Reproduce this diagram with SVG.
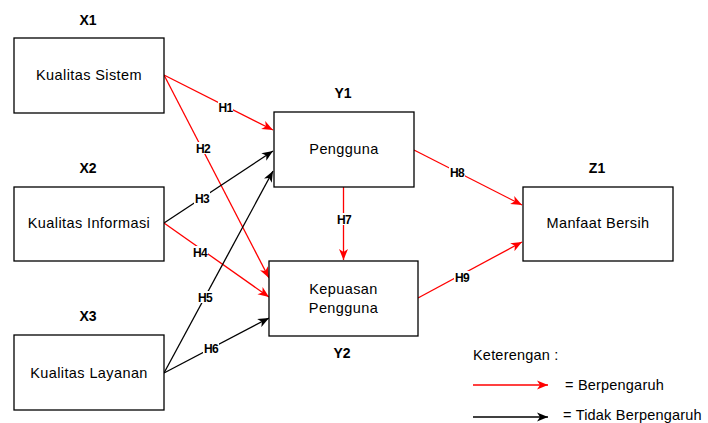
<svg xmlns="http://www.w3.org/2000/svg" width="708" height="423" viewBox="0 0 708 423">
  <defs>
    <marker id="arrRed" markerWidth="12" markerHeight="10" refX="11" refY="5" orient="auto" markerUnits="userSpaceOnUse">
      <path d="M0,0.5 L11,5 L0,9.5 L3,5 Z" fill="#ff0000"/>
    </marker>
    <marker id="arrBlack" markerWidth="12" markerHeight="10" refX="11" refY="5" orient="auto" markerUnits="userSpaceOnUse">
      <path d="M0,0.5 L11,5 L0,9.5 L3,5 Z" fill="#000000"/>
    </marker>
  </defs>
  <style>
    .box { fill: #ffffff; stroke: #000000; stroke-width: 1.3; }
    .txt { font-family: "Liberation Sans", Arial, sans-serif; font-size: 14.5px; fill: #000000; text-anchor: middle; letter-spacing: 0.4px; }
    .var { font-family: "Liberation Sans", Arial, sans-serif; font-size: 14px; font-weight: bold; fill: #000000; text-anchor: middle; }
    .hl { font-family: "Liberation Sans", Arial, sans-serif; font-size: 12px; font-weight: bold; fill: #000000; text-anchor: middle; letter-spacing: -0.6px; }
    .hbg { fill: #ffffff; }
    .red { stroke: #ff0000; stroke-width: 1.3; fill: none; marker-end: url(#arrRed); }
    .blk { stroke: #000000; stroke-width: 1.3; fill: none; marker-end: url(#arrBlack); }
    .leg { font-family: "Liberation Sans", Arial, sans-serif; font-size: 14.5px; fill: #000000; letter-spacing: 0.2px; }
  </style>
  <rect width="708" height="423" fill="#ffffff"/>

  <!-- connectors -->
  <g id="connectors">
    <line class="red" x1="164" y1="75" x2="273" y2="130"/>
    <line class="red" x1="164" y1="75" x2="269" y2="278"/>
    <line class="blk" x1="164" y1="223" x2="273" y2="151"/>
    <line class="red" x1="164" y1="223" x2="269" y2="297"/>
    <line class="blk" x1="164" y1="373" x2="273" y2="171"/>
    <line class="blk" x1="164" y1="373" x2="269" y2="318"/>
    <line class="red" x1="343.5" y1="187" x2="343.5" y2="260"/>
    <line class="red" x1="414" y1="150" x2="522" y2="205"/>
    <line class="red" x1="418" y1="298" x2="522" y2="242"/>

    <!-- hypothesis labels -->
    <rect class="hbg" x="218" y="101" width="15" height="12"/>
    <text class="hl" x="225.5" y="112">H1</text>
    <rect class="hbg" x="195" y="142" width="16" height="12"/>
    <text class="hl" x="203" y="153">H2</text>
    <rect class="hbg" x="194" y="192" width="16" height="12"/>
    <text class="hl" x="202" y="203">H3</text>
    <rect class="hbg" x="192" y="246" width="16" height="12"/>
    <text class="hl" x="200" y="257">H4</text>
    <rect class="hbg" x="197" y="291" width="16" height="12"/>
    <text class="hl" x="205" y="302">H5</text>
    <rect class="hbg" x="203" y="342" width="16" height="12"/>
    <text class="hl" x="211" y="353">H6</text>
    <rect class="hbg" x="336" y="213" width="16" height="12"/>
    <text class="hl" x="344" y="224">H7</text>
    <rect class="hbg" x="449" y="166" width="16" height="12"/>
    <text class="hl" x="457" y="177">H8</text>
    <rect class="hbg" x="454" y="271" width="16" height="12"/>
    <text class="hl" x="462" y="282">H9</text>
  </g>

  <!-- X1 -->
  <g id="x1">
    <text class="var" x="88" y="25">X1</text>
    <rect class="box" x="14" y="38" width="150" height="75"/>
    <text class="txt" x="89" y="80">Kualitas Sistem</text>
  </g>

  <!-- X2 -->
  <g id="x2">
    <text class="var" x="88" y="173">X2</text>
    <rect class="box" x="14" y="187" width="150" height="74"/>
    <text class="txt" x="89" y="228">Kualitas Informasi</text>
  </g>

  <!-- X3 -->
  <g id="x3">
    <text class="var" x="88" y="321">X3</text>
    <rect class="box" x="14" y="335" width="150" height="75"/>
    <text class="txt" x="89" y="378">Kualitas Layanan</text>
  </g>

  <!-- Y1 -->
  <g id="y1">
    <text class="var" x="343" y="98">Y1</text>
    <rect class="box" x="274" y="112" width="140" height="75"/>
    <text class="txt" x="344" y="154">Pengguna</text>
  </g>

  <!-- Y2 -->
  <g id="y2">
    <rect class="box" x="269" y="261" width="149" height="75"/>
    <text class="txt" x="343.5" y="294">Kepuasan</text>
    <text class="txt" x="343.5" y="313">Pengguna</text>
    <text class="var" x="342" y="358">Y2</text>
  </g>

  <!-- Z1 -->
  <g id="z1">
    <text class="var" x="597" y="173">Z1</text>
    <rect class="box" x="523" y="187" width="150" height="74"/>
    <text class="txt" x="598" y="228">Manfaat Bersih</text>
  </g>

  <!-- legend -->
  <g id="legend">
    <text class="leg" x="473" y="360">Keterengan :</text>
    <line class="red" x1="473" y1="385" x2="548" y2="385"/>
    <text class="leg" x="565" y="390">= Berpengaruh</text>
    <line class="blk" x1="473" y1="417" x2="548" y2="417"/>
    <text class="leg" x="563" y="420">= Tidak Berpengaruh</text>
  </g>
</svg>
